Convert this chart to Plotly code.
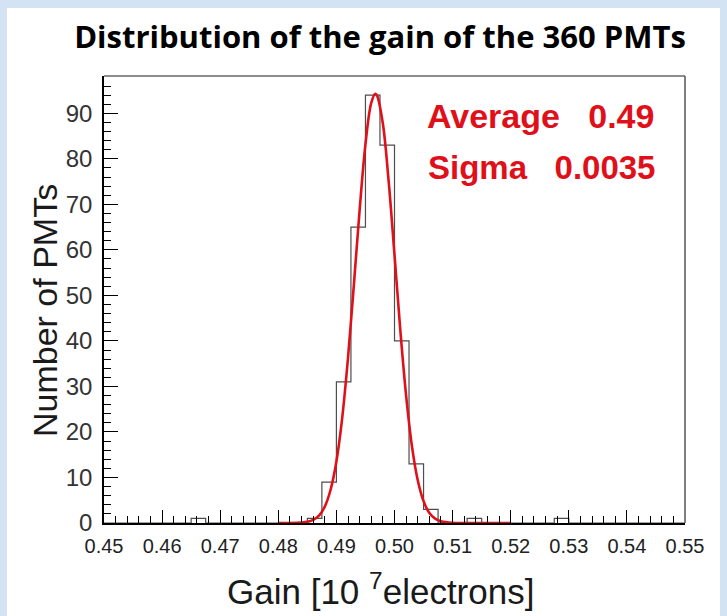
import plotly.graph_objects as go

# ---------------- data ----------------
bin_start = 0.45
bin_width = 0.0025
counts = [0, 0, 0, 0, 0, 0, 1, 0, 0, 0,
          0, 0, 0, 0, 1, 9, 31, 65, 94, 83,
          40, 13, 3, 0, 0, 1, 0, 0, 0, 0,
          0, 1, 0, 0, 0, 0, 0, 0, 0, 0]

fit_x = [0.480, 0.482, 0.484, 0.485, 0.486, 0.487, 0.488, 0.489, 0.490, 0.491,
         0.492, 0.493, 0.494, 0.495, 0.496, 0.4967, 0.497, 0.498, 0.499, 0.500,
         0.501, 0.502, 0.503, 0.504, 0.505, 0.506, 0.507, 0.508, 0.510, 0.512,
         0.515, 0.520]
fit_y = [0.0, 0.0, 0.09, 0.25, 0.67, 1.6, 3.6, 7.3, 13.5, 23.1,
         36.3, 52.2, 68.8, 83.2, 92.3, 94.3, 93.9, 87.7, 75.0, 58.9,
         42.4, 28.0, 16.9, 9.4, 4.8, 2.2, 0.96, 0.38, 0.04, 0.0,
         0.0, 0.0]

x_ticks = [0.45, 0.46, 0.47, 0.48, 0.49, 0.50, 0.51, 0.52, 0.53, 0.54, 0.55]
x_tick_labels = ["0.45", "0.46", "0.47", "0.48", "0.49", "0.50", "0.51", "0.52", "0.53", "0.54", "0.55"]
y_ticks = [0, 10, 20, 30, 40, 50, 60, 70, 80, 90]

title_text = "<b>Distribution of the gain of the 360 PMTs</b>"
fit_labels = ["Average\u00a0\u00a0\u00a00.49", "Sigma\u00a0\u00a0\u00a00.0035"]

# ---------------- figure ----------------
W, H = 727, 616
L, R, T, B = 104, 42, 76, 93
pw, ph = W - L - R, H - T - B

def px_x(px):
    return (px - L) / pw

def px_y(py):
    return (H - B - py) / ph

# histogram outline as a step line built from the bins
edges = [bin_start + i * bin_width for i in range(len(counts) + 1)]
hx = edges
hy = counts + [counts[-1]]

fig = go.Figure()
fig.add_trace(go.Scatter(x=hx, y=hy, mode="lines", line=dict(color="#4d4d4d", width=1.2, shape="hv"),
                         showlegend=False, hoverinfo="skip"))
fig.add_trace(go.Scatter(x=fit_x, y=fit_y, mode="lines", line=dict(color="#e0101a", width=2.6, shape="spline"),
                         showlegend=False))

axis_font = "Liberation Sans, Arial, sans-serif"

fig.update_layout(
    width=W, height=H,
    margin=dict(l=L, r=R, t=T, b=B, pad=0),
    paper_bgcolor="#d3e3f3",
    plot_bgcolor="white",
    showlegend=False,
    title=dict(text=title_text, x=px_x(380), xref="paper", xanchor="center",
               y=1 - 37 / H, yref="container", yanchor="middle",
               font=dict(family="Open Sans, sans-serif", size=31, color="black")),
    xaxis=dict(range=[0.45, 0.55], tickvals=x_ticks, ticktext=x_tick_labels,
               ticks="inside", ticklen=13, tickwidth=1.2, tickcolor="black",
               minor=dict(ticks="inside", ticklen=7, dtick=0.002, tick0=0.45, tickcolor="black", tickwidth=1.2),
               showline=True, linecolor="black", linewidth=2, showgrid=False, zeroline=False,
               tickfont=dict(family=axis_font, size=20, color="#222"), ticklabelstandoff=4),
    yaxis=dict(range=[0, 98.2], tickvals=y_ticks,
               ticks="inside", ticklen=14, tickwidth=1.2, tickcolor="black",
               minor=dict(ticks="inside", ticklen=7, dtick=2, tick0=0, tickcolor="black", tickwidth=1.2),
               showline=True, linecolor="black", linewidth=1.5, showgrid=False, zeroline=False,
               tickfont=dict(family=axis_font, size=24, color="#333"), ticklabelstandoff=5),
    shapes=[
        dict(type="rect", xref="paper", yref="paper", x0=px_x(7), x1=px_x(720), y0=px_y(616), y1=px_y(8),
             fillcolor="white", line=dict(width=0), layer="below"),
        dict(type="line", xref="paper", yref="paper", x0=0, x1=1, y0=1, y1=1,
             line=dict(color="#666", width=1.5)),
        dict(type="line", xref="paper", yref="paper", x0=1, x1=1, y0=0, y1=1,
             line=dict(color="#555", width=1.5)),
    ],
    annotations=[
        dict(text=fit_labels[0], xref="paper", yref="paper", x=px_x(425), y=px_y(115.6),
             xanchor="left", yanchor="middle", showarrow=False,
             font=dict(family=axis_font, size=34, color="#e0101a", weight="bold")),
        dict(text=fit_labels[1], xref="paper", yref="paper", x=px_x(426), y=px_y(167.6),
             xanchor="left", yanchor="middle", showarrow=False,
             font=dict(family=axis_font, size=33, color="#e0101a", weight="bold")),
        dict(text="Gain [10\u00a0<sup>7</sup>electrons]", xref="paper", yref="paper", x=px_x(380), y=px_y(589),
             xanchor="center", yanchor="middle", showarrow=False,
             font=dict(family=axis_font, size=35, color="#1a1a1a")),
        dict(text="Number of PMTs", xref="paper", yref="paper", x=px_x(45), y=px_y(311),
             xanchor="center", yanchor="middle", showarrow=False, textangle=-90,
             font=dict(family=axis_font, size=34, color="#1a1a1a")),
    ],
)

fig.write_html("out.html")
